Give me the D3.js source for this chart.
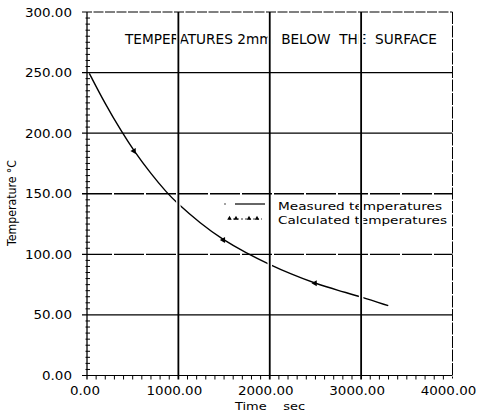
<!DOCTYPE html>
<html><head><meta charset="utf-8">
<script src="https://cdn.jsdelivr.net/npm/d3@7"></script>
<style>
html,body{margin:0;padding:0;background:#fff;}
svg{display:block;}
text{font-family:"DejaVu Sans",sans-serif;fill:#000;}
</style></head>
<body><svg id="c" width="477" height="418"></svg>
<script>
// ---- data ----
const timeSec      = [25, 200, 380, 514, 700, 872, 982, 1240, 1492, 1740, 1992, 2240, 2495, 2750, 2995, 3297];
const measuredTemp = [249.4, 224, 201, 185.3, 166.5, 151, 142.5, 125.5, 111.8, 101.3, 91.8, 83.5, 76.1, 70.2, 65.0, 57.6];
const calcTime     = [514, 1492, 2495];
const calcTemp     = [185.3, 111.8, 76.1];
const xTicks = [0, 1000, 2000, 3000, 4000];
const yTicks = [0, 50, 100, 150, 200, 250, 300];
const titleText = "TEMPERATURES 2mm  BELOW  THE  SURFACE";
const legendLabels = ["Measured temperatures", "Calculated temperatures"];
const xLabel = "Time    sec";
const yLabel = "Temperature °C";

const svg = d3.select("#c");
const x = d3.scaleLinear().domain([0, 4000]).range([87, 452.5]);
const y = d3.scaleLinear().domain([0, 300]).range([375.5, 12]);
const stretch = 1.22;
function widen(sel, f) {
  sel.each(function(){ const w = this.getComputedTextLength(); d3.select(this).attr("textLength", w * (f||stretch)).attr("lengthAdjust","spacingAndGlyphs"); });
}

// layers
const gText = svg.append("g");
const gCurve = svg.append("g");
const gHalo = svg.append("g");
const gGrid = svg.append("g");
const gV = svg.append("g");

// title
gText.append("text").attr("x", 125).attr("y", 44).attr("font-size", 13.5)
  .style("white-space","pre").text(titleText)
  .attr("textLength", 312).attr("lengthAdjust","spacingAndGlyphs");

// y tick labels
gText.selectAll(".yl").data(yTicks).join("text")
  .attr("x", 72).attr("y", d => y(d) + 4.5).attr("text-anchor","end").attr("font-size", 11.5)
  .text(d => d3.format(".2f")(d)).call(widen, 1.17);
// x tick labels
gText.selectAll(".xl").data(xTicks).join("text")
  .attr("x", d => x(d) - (d === 0 ? 2 : 4)).attr("y", 395).attr("text-anchor","middle").attr("font-size", 11.5)
  .text(d => d3.format(".2f")(d)).call(widen, 1.17);
// axis titles
gText.append("text").attr("x", 235).attr("y", 410).attr("font-size", 11)
  .style("white-space","pre").text(xLabel).attr("textLength", 70).attr("lengthAdjust","spacingAndGlyphs");
gText.append("text").attr("transform","translate(16,203) rotate(-90)").attr("text-anchor","middle")
  .attr("font-size", 11.5).text(yLabel).attr("textLength", 86).attr("lengthAdjust","spacingAndGlyphs");

// legend
gText.selectAll(".lg").data(legendLabels).join("text")
  .attr("x", 278).attr("y", (d,i) => 209.5 + i*14).attr("font-size", 11).text(d => d)
  .attr("textLength", (d,i) => i === 0 ? 164 : 169).attr("lengthAdjust","spacingAndGlyphs");
gText.append("line").attr("x1", 235).attr("x2", 265).attr("y1", 204).attr("y2", 204).attr("stroke","#000").attr("stroke-width",1.2);
gText.append("circle").attr("cx", 225).attr("cy", 204).attr("r", 0.7);
gText.append("line").attr("x1", 229).attr("x2", 262).attr("y1", 219).attr("y2", 219).attr("stroke","#000").attr("stroke-width",0.8).attr("stroke-dasharray","2,2");
gText.selectAll(".lm").data([229.5, 236, 249, 257]).join("path")
  .attr("transform", d => `translate(${d},218.5)`).attr("d", d3.symbol(d3.symbolTriangle, 9));

// curve
gCurve.append("path").datum(timeSec.map((t,i)=>[t, measuredTemp[i]]))
  .attr("fill","none").attr("stroke","#000").attr("stroke-width",1.4)
  .attr("d", d3.line().x(d=>x(d[0])).y(d=>y(d[1])).curve(d3.curveBasis));
gCurve.selectAll(".cm").data(calcTime.map((t,i)=>[t, calcTemp[i]])).join("path")
  .attr("transform", d => `translate(${x(d[0])},${y(d[1])}) rotate(30)`)
  .attr("d", d3.symbol(d3.symbolTriangle, 16));

// vertical halos
gHalo.selectAll("line").data(xTicks.slice(1, 4)).join("line")
  .attr("x1", d=>x(d)).attr("x2", d=>x(d)).attr("y1", y(300)).attr("y2", y(0))
  .attr("stroke","#fff").attr("stroke-width", 4.5);

// horizontal grid
gGrid.selectAll(".h").data(yTicks.slice(1, 6)).join("line")
  .attr("x1", 82).attr("x2", x(4000)).attr("y1", d=>y(d)).attr("y2", d=>y(d))
  .attr("stroke","#000").attr("stroke-width", 1.4)
  .attr("stroke-dasharray", d => (d === 100 || d === 150) ? "30,2" : null);
// top border
gGrid.append("line").attr("x1", 82).attr("x2", x(4000)).attr("y1", y(300)).attr("y2", y(300))
  .attr("stroke","#000").attr("stroke-width", 1).attr("stroke-dasharray","10,1.5");
// bottom axis
gGrid.append("line").attr("x1", 82).attr("x2", x(4000)).attr("y1", y(0)).attr("y2", y(0))
  .attr("stroke","#000").attr("stroke-width", 1.2);
// left axis
gGrid.append("line").attr("x1", x(0)).attr("x2", x(0)).attr("y1", y(300)).attr("y2", y(0)+4)
  .attr("stroke","#000").attr("stroke-width", 1.3);
// minor y ticks
gGrid.selectAll(".my").data(d3.range(5, 300, 5).filter(v => v % 50 !== 0)).join("line")
  .attr("x1", x(0)-1.5).attr("x2", x(0)+3).attr("y1", d=>y(d)).attr("y2", d=>y(d))
  .attr("stroke","#000").attr("stroke-width", 1);
// minor x ticks
gGrid.selectAll(".mx").data(d3.range(100, 4000, 100).filter(v => v % 1000 !== 0)).join("line")
  .attr("x1", d=>x(d)).attr("x2", d=>x(d)).attr("y1", y(0)).attr("y2", y(0)+4)
  .attr("stroke","#000").attr("stroke-width", 1);
// right border
gV.append("line").attr("x1", x(4000)).attr("x2", x(4000)).attr("y1", y(300)).attr("y2", y(0)+3)
  .attr("stroke","#000").attr("stroke-width", 1).attr("stroke-dasharray","12,1.5");
// vertical grid
gV.selectAll(".v").data(xTicks.slice(1, 4)).join("line")
  .attr("x1", d=>x(d)).attr("x2", d=>x(d)).attr("y1", y(300)).attr("y2", y(0)+4)
  .attr("stroke","#000").attr("stroke-width", 1.8);
</script></body></html>
